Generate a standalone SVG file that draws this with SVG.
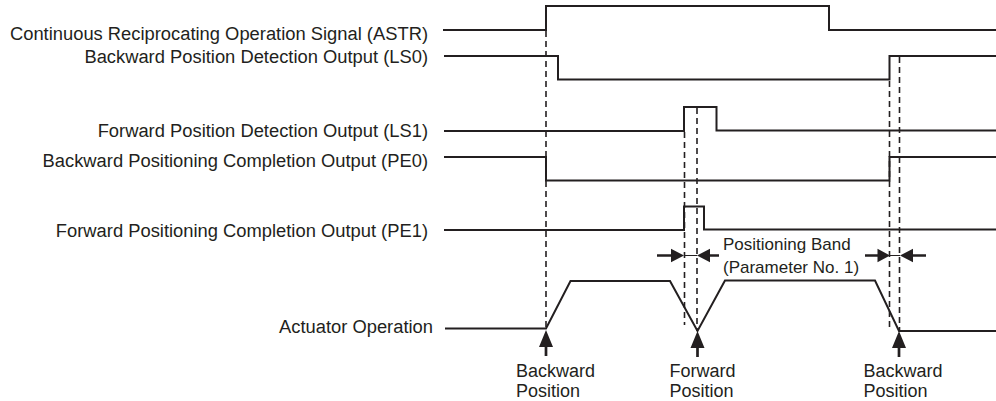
<svg xmlns="http://www.w3.org/2000/svg" width="996" height="401" viewBox="0 0 996 401">
<style>
.lbl{font-family:"Liberation Sans",Arial,sans-serif;font-size:18px;fill:#231f20}
.big{font-size:18.35px}
.sm{font-size:17px}
.end{text-anchor:end}
.wave{fill:none;stroke:#231f20;stroke-width:2}
.dash{fill:none;stroke:#231f20;stroke-width:1.6;stroke-dasharray:6 4}
.thin{fill:none;stroke:#231f20;stroke-width:1}
.thick{fill:none;stroke:#231f20;stroke-width:2.7}
.head{fill:#231f20;stroke:none}
</style>
<rect width="996" height="401" fill="#fff"/>
<g id="astr">
<text class="lbl big end" x="428" y="40">Continuous Reciprocating Operation Signal (ASTR)</text>
<path class="wave" d="M443,30 H546 V6 H829 V30 H996"/>
</g>
<g id="ls0">
<text class="lbl big end" x="428" y="63">Backward Position Detection Output (LS0)</text>
<path class="wave" d="M444,56 H558 V79.5 H889.5 V56 H996"/>
</g>
<g id="ls1">
<text class="lbl big end" x="428" y="137">Forward Position Detection Output (LS1)</text>
<path class="wave" d="M444,131 H684 V107 H716.5 V130.5 H996"/>
</g>
<g id="pe0">
<text class="lbl big end" x="428" y="167">Backward Positioning Completion Output (PE0)</text>
<path class="wave" d="M444,157 H546 V180.5 H889.5 V157 H996"/>
</g>
<g id="pe1">
<text class="lbl big end" x="428" y="237">Forward Positioning Completion Output (PE1)</text>
<path class="wave" d="M444,230 H684 V206.5 H704 V229.5 H996"/>
</g>
<g id="actuator">
<text class="lbl big end" x="433" y="333">Actuator Operation</text>
<path class="wave" d="M445,328.5 H546 L570.5,281 H670 L697.5,331 L725,280.5 H875 L899,331 H996"/>
</g>
<g id="band-label">
<text class="lbl sm" x="723" y="250">Positioning Band</text>
<text class="lbl sm" x="723" y="272.5">(Parameter No. 1)</text>
</g>
<g id="pos-backward-1">
<text class="lbl" x="516" y="376.5">Backward</text>
<text class="lbl" x="516" y="397">Position</text>
</g>
<g id="pos-forward">
<text class="lbl" x="669.5" y="376.5">Forward</text>
<text class="lbl" x="669.5" y="397">Position</text>
</g>
<g id="pos-backward-2">
<text class="lbl" x="863.5" y="376.5">Backward</text>
<text class="lbl" x="863.5" y="397">Position</text>
</g>
<g id="connectors">
<path class="dash" d="M546,31 V328"/>
<path class="dash" d="M684.5,132 V325"/>
<path class="dash" d="M697,108 V331"/>
<path class="dash" d="M889.5,81 V330"/>
<path class="dash" d="M899.5,57 V331"/>
<path class="thick" d="M657,255.5 H672 M719,255.5 H709 M865,255.5 H879 M926,255.5 H912"/>
<path class="thin" d="M684,255.5 H697 M890,255.5 H900"/>
<path class="head" d="M671,248.8 L684,255.5 L671,262.2 Z M710,248.8 L697,255.5 L710,262.2 Z M877.5,248.8 L890,255.5 L877.5,262.2 Z M913,248.8 L900,255.5 L913,262.2 Z"/>
<path class="head" d="M546,330 L553,347 L539,347 Z M697.5,331 L704.5,348 L690.5,348 Z M899,331 L906,348 L892,348 Z"/>
<path class="thick" d="M546,345 V356 M697.5,346 V357 M899,346 V357"/>
</g>
</svg>
